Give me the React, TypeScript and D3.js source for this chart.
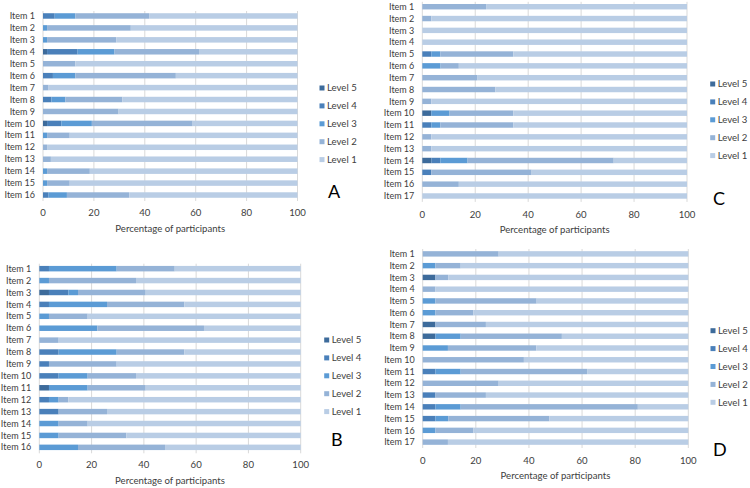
import * as d3 from "d3";
import React from "react";

const levels = ["Level 5", "Level 4", "Level 3", "Level 2", "Level 1"];
const levelColors = ["#3d6b9b", "#4a80ba", "#5b9bd5", "#95b3d7", "#b9cde5"];
const ticks = [0, 20, 40, 60, 80, 100];

// rows: [Level 5, Level 4, Level 3, Level 2, Level 1] in %
const dataA = [
  [0, 4.6, 8.1, 29.0, 58.3],
  [0, 0, 1.6, 32.9, 65.5],
  [0, 0, 1.6, 27.2, 71.2],
  [1.6, 12.0, 14.5, 33.2, 38.7],
  [0, 0, 0, 12.7, 87.3],
  [0, 3.9, 8.8, 39.5, 47.8],
  [0, 0, 0, 2.2, 97.8],
  [0, 3.3, 5.5, 22.4, 68.8],
  [0, 0, 0, 29.7, 70.3],
  [1.6, 5.6, 12.0, 39.6, 41.2],
  [0, 0, 1.6, 8.9, 89.5],
  [0, 0, 0, 1.6, 98.4],
  [0, 0, 0, 3.1, 96.9],
  [0, 0, 1.6, 16.8, 81.6],
  [0, 0, 1.6, 8.9, 89.5],
  [0, 2.2, 7.2, 24.5, 66.1],
];

const dataB = [
  [0, 3.7, 25.9, 22.2, 48.2],
  [0, 0, 3.7, 33.3, 63.0],
  [3.7, 7.4, 3.7, 25.9, 59.3],
  [0, 3.7, 22.2, 29.6, 44.5],
  [0, 0, 3.7, 14.8, 81.5],
  [0, 0, 22.2, 40.8, 37.0],
  [0, 0, 0, 7.4, 92.6],
  [0, 7.4, 22.2, 25.9, 44.5],
  [0, 3.7, 0, 25.9, 70.4],
  [0, 7.4, 11.1, 18.5, 63.0],
  [3.7, 0, 14.8, 22.2, 59.3],
  [0, 3.7, 3.7, 3.7, 88.9],
  [0, 7.4, 0, 18.5, 74.1],
  [0, 0, 7.4, 11.1, 81.5],
  [0, 0, 7.4, 25.9, 66.7],
  [0, 0, 14.8, 33.3, 51.9],
];

const dataC = [
  [0, 0, 0, 24.1, 75.9],
  [0, 0, 0, 3.4, 96.6],
  [0, 0, 0, 0, 100],
  [0, 0, 0, 0, 100],
  [0, 3.4, 3.4, 27.6, 65.6],
  [0, 0, 6.9, 6.9, 86.2],
  [0, 0, 0, 20.7, 79.3],
  [0, 0, 0, 27.6, 72.4],
  [0, 0, 0, 3.4, 96.6],
  [3.4, 0, 6.9, 24.1, 65.6],
  [0, 3.4, 3.4, 27.6, 65.6],
  [0, 0, 0, 3.4, 96.6],
  [0, 0, 0, 3.4, 96.6],
  [3.4, 3.4, 10.3, 55.2, 27.7],
  [0, 3.4, 0, 37.9, 58.7],
  [0, 0, 0, 13.8, 86.2],
  [0, 0, 0, 0, 100],
];

const dataD = [
  [0, 0, 0, 28.6, 71.4],
  [0, 0, 4.8, 9.5, 85.7],
  [4.8, 0, 0, 4.8, 90.4],
  [0, 0, 0, 4.8, 95.2],
  [0, 0, 4.8, 38.1, 57.1],
  [0, 0, 4.8, 14.3, 80.9],
  [4.8, 0, 0, 19.0, 76.2],
  [4.8, 0, 9.5, 38.1, 47.6],
  [0, 0, 9.5, 33.3, 57.2],
  [0, 0, 0, 38.1, 61.9],
  [0, 4.8, 9.5, 47.6, 38.1],
  [0, 0, 0, 28.6, 71.4],
  [0, 4.8, 0, 19.0, 76.2],
  [0, 4.8, 9.5, 66.7, 19.0],
  [0, 4.8, 4.8, 38.1, 52.3],
  [0, 0, 4.8, 14.3, 80.9],
  [0, 0, 0, 9.5, 90.5],
];

const font = "Lato, 'Open Sans', sans-serif";
const textColor = "#404040";
const fs = 9.6;
const itemFs = 9;

type PanelProps = {
  data: number[][];
  letter: string;
  x0: number;
  x1: number;
  top: number;
  bottom: number;
  tickY: number;
  titleY: number;
  legendX: number;
  legendY: number;
  letterX: number;
  letterY: number;
};

const Panel = (p: PanelProps) => {
  const items = p.data.map((_, i) => `Item ${i + 1}`);
  const x = d3.scaleLinear().domain([0, 100]).range([p.x0, p.x1]);
  const y = d3.scaleBand().domain(items).range([p.top, p.bottom]).paddingInner(0.54).paddingOuter(0.27);
  const rows = p.data.map((r, i) => {
    const o: any = { item: items[i] };
    levels.forEach((l, j) => (o[l] = r[j]));
    return o;
  });
  const series = d3.stack().keys(levels)(rows);

  return (
    <g fontFamily={font} fill={textColor}>
      {ticks.map((t) => (
        <line key={t} x1={x(t)} x2={x(t)} y1={p.top + 1} y2={p.bottom} stroke="#d9d9d9" strokeWidth={1} />
      ))}
      {series.map((s, si) => (
        <g key={s.key} fill={levelColors[si]}>
          {s.map((d, i) => (
            <rect
              key={i}
              x={x(d[0])}
              width={Math.max(0, x(d[1]) - x(d[0]))}
              y={y(items[i])}
              height={y.bandwidth()}
            />
          ))}
        </g>
      ))}
      {items.map((it) => (
        <text key={it} x={p.x0 - 8} y={y(it)! + y.bandwidth() / 2} dy="0.35em" textAnchor="end" fontSize={itemFs}>
          {it}
        </text>
      ))}
      {ticks.map((t) => (
        <text key={t} x={x(t)} y={p.tickY} dy="0.35em" textAnchor="middle" fontSize={fs}>
          {t}
        </text>
      ))}
      <text x={(p.x0 + p.x1) / 2} y={p.titleY} dy="0.35em" textAnchor="middle" fontSize={fs}>
        Percentage of participants
      </text>
      {levels.map((l, i) => (
        <g key={l} transform={`translate(${p.legendX},${p.legendY + i * 17.9})`}>
          <rect x={-2.5} y={-2.5} width={5} height={5} fill={levelColors[i]} />
          <text x={5} dy="0.35em" fontSize={fs}>
            {l}
          </text>
        </g>
      ))}
      <text x={p.letterX} y={p.letterY} dy="0.35em" fontSize={18} fill="#000">
        {p.letter}
      </text>
    </g>
  );
};

export default function App() {
  return (
    <svg width={750} height={488} style={{ position: "absolute", left: 0, top: 0, background: "#fff" }}>
      <rect width={750} height={488} fill="#fff" />
      <Panel data={dataA} letter="A" x0={43} x1={297.5} top={10} bottom={201} tickY={213} titleY={229}
        legendX={322} legendY={88} letterX={328} letterY={192} />
      <Panel data={dataB} letter="B" x0={39.3} x1={300.7} top={262.7} bottom={453.3} tickY={465} titleY={481}
        legendX={326.7} legendY={340} letterX={331} letterY={440} />
      <Panel data={dataC} letter="C" x0={422.3} x1={687} top={0.8} bottom={201.9} tickY={214.7} titleY={230}
        legendX={712.7} legendY={84} letterX={713} letterY={199} />
      <Panel data={dataD} letter="D" x0={422.7} x1={688.3} top={248} bottom={448} tickY={460.7} titleY={476}
        legendX={713} legendY={330.7} letterX={713} letterY={450} />
    </svg>
  );
}
